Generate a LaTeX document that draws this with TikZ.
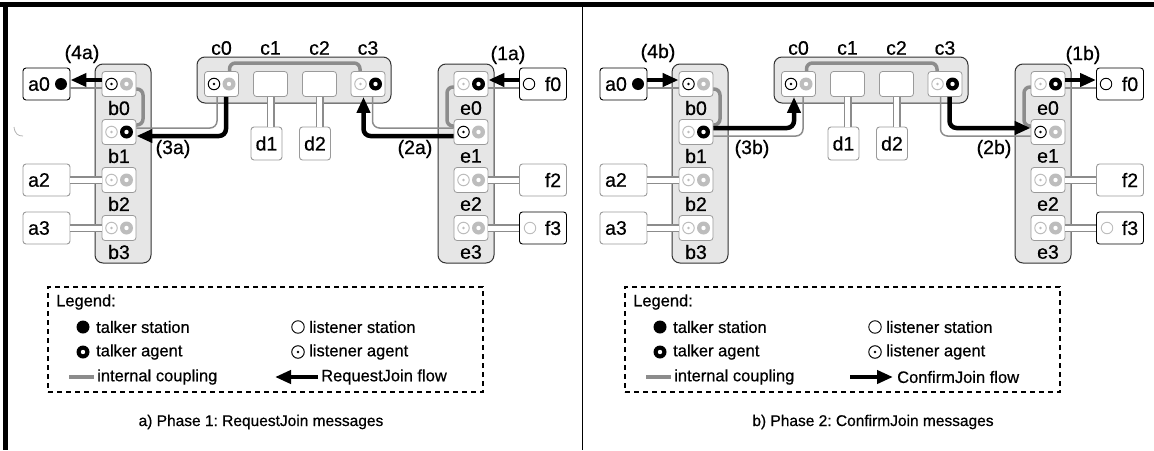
\documentclass[tikz,border=0pt]{standalone}
\usepackage{fontspec}
\setmainfont{Liberation Sans}
\newfontfamily\hvy{Liberation Sans}[FakeBold=0.6]
\usetikzlibrary{arrows.meta}
\frenchspacing
\definecolor{colfill}{HTML}{E6E6E6}
\definecolor{rail}{HTML}{8C8C8C}
\definecolor{lite}{HTML}{BDBDBD}
\definecolor{pbord}{HTML}{9A9A9A}
\tikzset{
 portbox/.style={draw=pbord, fill=white, rounded corners=3pt, minimum width=34pt, minimum height=25pt, inner sep=0pt, line width=0.8pt},
 stbox/.style={draw=#1, fill=white, rounded corners=3pt, minimum width=47pt, minimum height=32pt, inner sep=0pt, line width=0.9pt},
 dbox/.style={draw=pbord, fill=white, rounded corners=3pt, minimum width=31pt, minimum height=33pt, inner sep=0pt, line width=0.9pt},
 column/.style={draw=black!80, fill=colfill, rounded corners=8pt, line width=1pt, inner sep=0pt},
 lagent/.style={circle, draw=#1, line width=1pt, minimum size=11.5pt, inner sep=0pt, path picture={\fill[#1] (path picture bounding box.center) circle (1.4pt);}},
 tagent/.style={circle, fill=#1, minimum size=13pt, inner sep=0pt, path picture={\fill[white] (path picture bounding box.center) circle (2.2pt);}},
 tstation/.style={circle, fill=black, minimum size=12pt, inner sep=0pt},
 lstation/.style={circle, draw=#1, line width=0.9pt, minimum size=11.5pt, inner sep=0pt},
 coupling/.style={draw=rail, line width=3.5pt, rounded corners=6pt},
 railg/.style={draw=rail, line width=1.5pt, rounded corners=7pt},
 flow/.style={draw=black, line width=4.5pt, rounded corners=7pt, -{Triangle[length=16pt,width=13pt]}},
 dbl/.style={draw=rail, line width=1.5pt, double=white, double distance=5pt},
 lbl/.style={font=\hvy\fontsize{19.5}{22}\selectfont, inner sep=0pt},
 leg/.style={font=\hvy\fontsize{16.5}{19}\selectfont, inner sep=0pt, anchor=west},
 captext/.style={font=\hvy\fontsize{15.5}{18}\selectfont, inner sep=0pt},
 legbox/.style={draw=black, line width=1.1pt, dash pattern=on 5pt off 4pt, inner sep=0pt},
}
\newcommand\mkport[5]{%
 \node[portbox] (#1) at (#2,#3) {};
 \node[#4] (#1l) at (#2-7.5,#3) {};
 \node[#5] (#1r) at (#2+7.5,#3) {};
}
\newcommand\drawpanel[1]{%
 \node[column, minimum width=56pt, minimum height=199pt] (#1B) at (123,163.5) {};
 \node[column, minimum width=56pt, minimum height=199pt] (#1E) at (466,163.5) {};
 \node[column, minimum width=194pt, minimum height=46pt] (#1C) at (294,80) {};
 \coordinate (#1c0x) at (229.5,84);
 \coordinate (#1c3x) at (360,84);
 \draw[coupling] (#1c0x) -- ++(0,-21) -| (#1c3x);
 \draw[coupling] (119,89) -- (143,89) -- (143,125) -- (119,125);
 \draw[coupling] (471,87) -- (447,87) -- (447,126) -- (471,126);
 \mkport{#1b0}{119}{84}{lagent=black}{tagent=lite}
 \mkport{#1b1}{119}{132}{lagent=lite}{tagent=black}
 \mkport{#1b2}{119}{180}{lagent=lite}{tagent=lite}
 \mkport{#1b3}{119}{228}{lagent=lite}{tagent=lite}
 \mkport{#1e0}{471}{84}{lagent=lite}{tagent=black}
 \mkport{#1e1}{471}{132}{lagent=black}{tagent=lite}
 \mkport{#1e2}{471}{180}{lagent=lite}{tagent=lite}
 \mkport{#1e3}{471}{228}{lagent=lite}{tagent=lite}
 \mkport{#1c0}{221.5}{84}{lagent=black}{tagent=lite}
 \node[portbox] (#1c1) at (270.5,84) {};
 \node[portbox] (#1c2) at (319.5,84) {};
 \mkport{#1c3}{368}{84}{lagent=lite}{tagent=black}
 \node[lbl] (#1b0t) at (119,108) {b0};
 \node[lbl] (#1b1t) at (119,156) {b1};
 \node[lbl] (#1b2t) at (119,204) {b2};
 \node[lbl] (#1b3t) at (119,252) {b3};
 \node[lbl] (#1e0t) at (471,108) {e0};
 \node[lbl] (#1e1t) at (471,156) {e1};
 \node[lbl] (#1e2t) at (471,204) {e2};
 \node[lbl] (#1e3t) at (471,252) {e3};
 \node[lbl] (#1c0t) at (221.5,48) {c0};
 \node[lbl] (#1c1t) at (270.5,48) {c1};
 \node[lbl] (#1c2t) at (319.5,48) {c2};
 \node[lbl] (#1c3t) at (368,48) {c3};
 \node[stbox=black] (#1a0) at (46.5,84) {};
 \node[lbl] (#1a0t) at (39,84) {a0};
 \node[tstation] (#1a0s) at (61,84) {};
 \node[stbox=pbord] (#1a2) at (46.5,180) {};
 \node[lbl] (#1a2t) at (39,180) {a2};
 \node[stbox=pbord] (#1a3) at (46.5,228) {};
 \node[lbl] (#1a3t) at (39,228) {a3};
 \node[stbox=black] (#1f0) at (543,84) {};
 \node[lstation=black] (#1f0s) at (529,84) {};
 \node[lbl] (#1f0t) at (553,84) {f0};
 \node[stbox=pbord] (#1f2) at (543,180) {};
 \node[lbl] (#1f2t) at (553,180) {f2};
 \node[stbox=black] (#1f3) at (543,228) {};
 \node[lstation=lite] (#1f3s) at (530,228) {};
 \node[lbl] (#1f3t) at (553,228) {f3};
 \node[dbox] (#1d1) at (266.5,143.5) {};
 \node[lbl] (#1d1t) at (266.5,143.5) {d1};
 \node[dbox] (#1d2) at (315,143.5) {};
 \node[lbl] (#1d2t) at (315,143.5) {d2};
 \draw[dbl] (#1c1.south) -- (#1c1.south |- #1d1.north);
 \draw[dbl] (#1c2.south) -- (#1c2.south |- #1d2.north);
 \draw[dbl] (#1a2.east) -- (#1b2.west);
 \draw[dbl] (#1a3.east) -- (#1b3.west);
 \draw[dbl] (#1e2.east) -- (#1f2.west);
 \draw[dbl] (#1e3.east) -- (#1f3.west);
 \node[legbox, minimum width=435pt, minimum height=105pt] (#1leg) at (265.5,339.5) {};
 \node[leg] (#1legt) at (56,302) {Legend:};
 \node[tstation, minimum size=13pt] (#1l1s) at (83,327) {};
 \node[leg] (#1l1t) at (96,327) {talker station};
 \node[lstation=black, minimum size=12.5pt] (#1l2s) at (298,327) {};
 \node[leg] (#1l2t) at (309,327) {listener station};
 \node[tagent=black] (#1l3s) at (83,352) {};
 \node[leg] (#1l3t) at (96,352) {talker agent};
 \node[lagent=black, minimum size=12.5pt] (#1l4s) at (298,352) {};
 \node[leg] (#1l4t) at (309,352) {listener agent};
 \coordinate (#1l5a) at (69,377);
 \coordinate (#1l5b) at (94,377);
 \node[leg] (#1l5t) at (97,377) {internal coupling};
 \draw[draw=rail, line width=3.5pt] (#1l5a) -- (#1l5b);
}
\begin{document}
\begin{tikzpicture}[x=1pt,y=-1pt]
\useasboundingbox (0,0) rectangle (1154,450);
\fill[black] (0,2) rectangle (1154,7);
\fill[black] (3,2) rectangle (8,450);
\draw[black, line width=0.8pt] (582,7) -- (582,450);
\draw[gray!60, line width=0.8pt] (14,127) .. controls (15,134) and (18,136) .. (23,136);
% ---------------- panel a
\drawpanel{L}
\draw[railg] ([yshift=-4pt]La0.east) -- ([yshift=-4pt]Lb0.west);
\draw[flow] ([yshift=4pt]Lb0.west) -- ([yshift=4pt]La0.east);
\draw[railg] ([xshift=-4.5pt]Lc0.south) |- ([yshift=4pt]Lb1.east);
\draw[flow] ([xshift=4.5pt]Lc0.south) |- ([yshift=-4pt]Lb1.east);
\draw[railg] ([yshift=4pt]Le1.west) -| ([xshift=4.5pt]Lc3.south);
\draw[flow] ([yshift=-4pt]Le1.west) -| ([xshift=-4.5pt]Lc3.south);
\draw[railg] ([yshift=-4pt]Le0.east) -- ([yshift=-4pt]Lf0.west);
\draw[flow] ([yshift=4pt]Lf0.west) -- ([yshift=4pt]Le0.east);
\node[lbl] (L4) at (82,54) {(4a)};
\node[lbl] (L3) at (173,149) {(3a)};
\node[lbl] (L2) at (415,149) {(2a)};
\node[lbl] (L1) at (508,55) {(1a)};
\coordinate (Lfa) at (318,377);
\coordinate (Lfb) at (275,377);
\node[leg] (Lflt) at (321,377) {RequestJoin flow};
\draw[flow] (Lfa) -- (Lfb);
\node[captext] (capA) at (261,422) {a) Phase 1: RequestJoin messages};
% ---------------- panel b
\begin{scope}[xshift=577pt]
\drawpanel{R}
\draw[railg] ([yshift=-4pt]Ra0.east) -- ([yshift=-4pt]Rb0.west);
\draw[flow] ([yshift=4pt]Ra0.east) -- ([yshift=4pt]Rb0.west);
\draw[railg] ([yshift=-4pt]Rb1.east) -| ([xshift=4.5pt]Rc0.south);
\draw[flow] ([yshift=4pt]Rb1.east) -| ([xshift=-4.5pt]Rc0.south);
\draw[railg] ([xshift=-4.5pt]Rc3.south) |- ([yshift=-4pt]Re1.west);
\draw[flow] ([xshift=4.5pt]Rc3.south) |- ([yshift=4pt]Re1.west);
\draw[railg] ([yshift=-4pt]Re0.east) -- ([yshift=-4pt]Rf0.west);
\draw[flow] ([yshift=4pt]Re0.east) -- ([yshift=4pt]Rf0.west);
\node[lbl] (R4) at (81,53) {(4b)};
\node[lbl] (R3) at (175,149) {(3b)};
\node[lbl] (R2) at (417,149) {(2b)};
\node[lbl] (R1) at (506,55) {(1b)};
\coordinate (Rfa) at (273,377);
\coordinate (Rfb) at (316,377);
\node[leg] (Rflt) at (320,377) {ConfirmJoin flow};
\draw[flow] (Rfa) -- (Rfb);
\node[captext] (capB) at (296,422) {b) Phase 2: ConfirmJoin messages};
\end{scope}
\end{tikzpicture}
\end{document}
